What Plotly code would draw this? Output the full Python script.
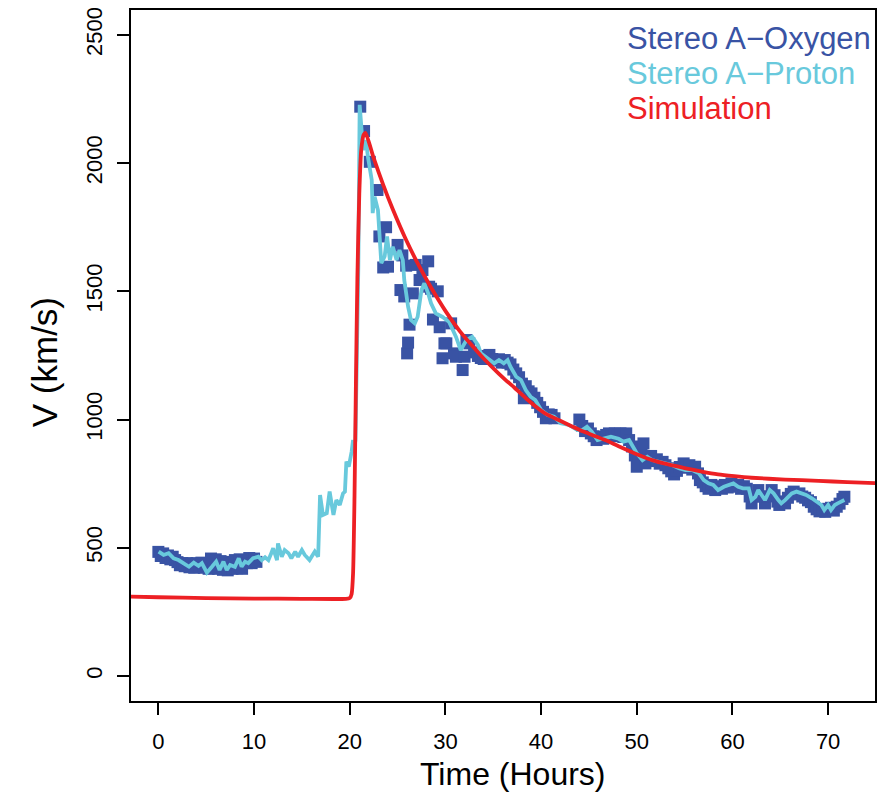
import plotly.graph_objects as go

# ---------------- data ----------------
oxy_t = [0.0, 0.25, 0.5, 0.75, 1.0, 1.25, 1.5, 1.75, 2.0, 2.25, 2.5, 2.75, 3.0, 3.25, 3.5,
         3.75, 4.0, 4.25, 4.5, 4.75, 5.0, 5.25, 5.5, 5.75, 6.0, 6.25, 6.5, 6.75, 7.0, 7.25,
         7.5, 7.75, 8.0, 8.25, 8.5, 8.75, 9.0, 9.25, 9.5, 9.75, 10.0, 10.25,
         21.1, 21.5, 22.1, 22.9, 23.1, 23.5, 23.8, 24.0, 25.0, 25.3, 25.5, 25.7, 25.9, 26.0,
         26.1, 26.25, 26.6, 26.9, 27.3, 27.6, 28.2, 28.3, 28.5, 28.7, 29.2, 29.4, 29.7, 29.9,
         30.1, 30.6, 30.9, 31.1, 31.8, 32.0, 32.2, 32.5,
         33.0, 33.4, 33.7, 34.0, 34.3, 34.6, 34.9, 35.2, 35.6, 35.9, 36.2, 36.5, 36.8, 37.1,
         37.4, 37.7, 38.0, 38.2, 38.4, 38.7, 39.0, 39.3, 39.6, 39.9, 40.2, 40.5, 40.8, 41.1,
         41.4,
         44.0, 44.3, 44.6, 44.9, 45.2, 45.5, 45.8, 46.1, 46.5, 46.8, 47.1, 47.4, 47.7, 48.0,
         48.3, 48.6, 48.9, 49.2, 49.5, 49.8, 50.0, 50.2, 50.5, 50.7, 50.9, 51.2, 51.5, 51.8,
         52.1, 52.4, 52.7, 53.0, 53.3, 53.6, 53.9, 54.2, 54.5, 54.9, 55.2, 55.5, 55.8, 56.1,
         56.4, 56.6, 56.9, 57.2, 57.5, 57.8, 58.2, 58.5, 58.9, 59.2, 59.5, 59.9, 60.2, 60.6,
         60.9, 61.2, 61.5, 61.8, 62.0, 62.3, 62.7, 63.0, 63.4, 63.7, 64.1, 64.4, 64.7, 64.9,
         65.2, 65.5, 65.8, 66.1, 66.4, 66.7, 67.0, 67.3, 67.6, 67.9, 68.2, 68.5, 68.8, 69.1,
         69.4, 69.7, 70.0, 70.3, 70.6, 70.9, 71.2, 71.5, 71.7]
oxy_v = [484, 468, 478, 460, 470, 455, 465, 452, 444, 432, 440, 428, 440, 424, 438,
         422, 440, 425, 442, 422, 436, 418, 458, 420, 455, 418, 448, 414, 445, 412,
         440, 418, 452, 420, 455, 418, 450, 440, 460, 440, 458, 445,
         2220, 2125, 2005, 1895, 1714, 1593, 1750, 1596, 1681, 1505, 1640, 1480, 1600, 1258,
         1300, 1370, 1492, 1603, 1544, 1583, 1617, 1518, 1510, 1390, 1500, 1360, 1239, 1297,
         1297, 1375, 1258, 1245, 1193, 1245, 1310, 1297,
         1262, 1248, 1240, 1236, 1245, 1252, 1236, 1230, 1235, 1222, 1232, 1222, 1215, 1195,
         1180, 1165, 1140, 1083, 1130, 1110, 1102, 1085, 1065, 1048, 1030, 1005, 1020, 1018,
         1005,
         1000, 975, 955, 965, 946, 935, 920, 932, 925, 940, 946, 935, 946, 936,
         946, 932, 946, 920, 895, 860, 816, 850, 880, 907, 829, 850, 858, 838,
         845, 828, 835, 822, 810, 798, 786, 800, 815, 829, 812, 822, 805, 816,
         790, 764, 755, 740, 730, 745, 725, 740, 730, 745, 735, 751, 738, 745,
         730, 740, 730, 700, 673, 700, 725, 700, 673, 700, 725, 705, 680, 667,
         680, 673, 695, 710, 719, 708, 712, 700, 695, 685, 678, 660, 650, 642,
         648, 640, 652, 656, 645, 660, 672, 690, 699]

pro_t = [0.03, 0.55, 1.07, 1.6, 2.1, 2.6, 3.2, 3.7, 4.2, 4.55, 5.07, 5.6, 6.04, 6.4, 6.8,
         7.15, 7.5, 8.0, 8.4, 8.7, 9.06, 9.4, 9.9, 10.45, 10.8, 11.15, 11.5, 11.8, 12.0, 12.4,
         12.5, 12.9, 13.2, 13.6, 13.9, 14.3, 14.6, 15.0, 15.3, 15.8, 16.35, 16.7, 16.9, 17.2,
         17.6, 17.9, 18.3, 18.6, 18.96, 19.3, 19.5, 19.65, 19.9, 20.2, 20.35, 20.4, 20.6, 20.9,
         21.04, 21.4, 21.7, 21.9, 22.3, 22.4, 22.6, 22.95, 23.1, 23.3, 23.65, 23.9, 24.2, 24.5,
         24.9, 25.2, 25.55, 25.7, 26.1, 26.4, 26.8, 27.1, 27.5, 27.8, 28.2, 28.5, 29.0, 29.7,
         30.4, 31.1, 31.6, 32.2, 32.8, 33.4, 33.7, 34.4, 35.1, 35.6, 36.1, 36.5, 36.8, 37.4,
         37.9, 38.4, 38.9, 39.4, 40.0, 40.7, 41.35, 42.05, 42.9, 43.8, 44.3, 44.8, 45.3, 45.9,
         46.6, 47.3, 48.1, 48.6, 49.2, 49.5, 50.0, 50.6, 51.1, 51.6, 52.3, 53.0, 53.7, 54.4,
         55.1, 55.8, 56.5, 57.0, 57.5, 58.0, 58.5, 59.1, 59.6, 60.1, 60.6, 61.1, 61.7, 62.0,
         62.4, 62.7, 63.05, 63.4, 63.9, 64.3, 64.8, 65.1, 65.5, 65.8, 66.2, 66.7, 67.2, 67.7,
         68.3, 68.8, 69.3, 69.6, 70.0, 70.3, 70.7, 71.0, 71.4, 71.7]
pro_v = [485, 472, 479, 459, 452, 440, 426, 442, 429, 440, 403, 426, 446, 413, 446,
         413, 433, 426, 459, 426, 446, 440, 459, 465, 452, 463, 452, 479, 498, 452,
         517, 465, 491, 479, 459, 485, 465, 491, 472, 452, 485, 465, 706, 628,
         635, 719, 628, 686, 667, 712, 719, 836, 816, 875, 920, 869, 920, 1600,
         2227, 2051, 2090, 2025, 1934, 1805, 1869, 1817, 1740, 1610, 1636, 1714, 1622, 1674,
         1622, 1661, 1622, 1544, 1440, 1388, 1375, 1401, 1505, 1531, 1492, 1453, 1414, 1400,
         1380, 1323, 1271, 1310, 1323, 1291, 1258, 1239, 1219, 1232, 1219, 1232, 1206, 1167,
         1154, 1115, 1089, 1076, 1037, 1018, 1011, 986, 979, 959, 959, 972, 953, 920,
         927, 933, 925, 914, 920, 901, 869, 842, 855, 842, 836, 829, 823, 810,
         803, 803, 790, 764, 751, 745, 725, 738, 745, 751, 738, 732, 732, 686,
         699, 725, 706, 686, 725, 712, 686, 673, 686, 699, 712, 719, 712, 706,
         693, 680, 667, 647, 667, 647, 667, 673, 680, 686]

sim_t = [-3, 0, 5, 10, 15, 19.6, 20.0, 20.2, 20.35, 20.5, 20.65, 20.8, 21.0, 21.2, 21.45,
         21.65, 22.5, 23.5, 24.5, 25.9, 27.3, 28.5, 30.07, 31.5, 32.8, 34.2, 35.6, 36.3, 37.2,
         38.5, 39.8, 40.5, 42, 43.3, 44.5, 46.7, 48.1, 50.2, 51.6, 53.3, 55.1, 56.8, 58.5,
         60.2, 62, 65.5, 69, 72, 75]
sim_v = [310, 307, 304, 302, 301, 301, 304, 320, 400, 700, 1150, 1550, 1880, 2050, 2110,
         2118, 2020, 1915, 1820, 1700, 1595, 1515, 1420, 1345, 1288, 1230, 1178, 1154, 1125,
         1080, 1040, 1022, 995, 972, 952, 920, 896, 862, 842, 825, 810, 797, 786,
         779, 773, 766, 761, 756, 752]

legend_labels = ["Stereo A\u2212Oxygen", "Stereo A\u2212Proton", "Simulation"]
x_ticks = [0, 10, 20, 30, 40, 50, 60, 70]
y_ticks = [0, 500, 1000, 1500, 2000, 2500]

# ---------------- style ----------------
C_OXY = "#3953A4"
C_PRO = "#68C9DC"
C_SIM = "#ED2024"
FONT = "Liberation Sans, Arial, Helvetica, sans-serif"

W, H = 884, 796
L, R, T, B = 131, 7, 10, 95
XR = [-2.86, 74.9]
YR = [-97.5, 2597]

fig = go.Figure()
fig.add_trace(go.Scatter(x=oxy_t, y=oxy_v, mode="markers",
                         marker=dict(symbol="square", size=12, color=C_OXY, line=dict(width=0)),
                         showlegend=False, cliponaxis=True))
fig.add_trace(go.Scatter(x=pro_t, y=pro_v, mode="lines",
                         line=dict(color=C_PRO, width=3.8), showlegend=False))
fig.add_trace(go.Scatter(x=sim_t, y=sim_v, mode="lines", line_shape="spline",
                         line=dict(color=C_SIM, width=3.8, smoothing=0.6), showlegend=False))

axis_common = dict(showgrid=False, zeroline=False, showline=True, linecolor="black",
                   linewidth=2, mirror=True, ticks="outside", ticklen=12, tickwidth=2,
                   tickcolor="black", tickfont=dict(family=FONT, size=22, color="black"))
fig.update_xaxes(range=XR, tickmode="array", tickvals=x_ticks,
                 ticktext=[str(v) for v in x_ticks], ticklabelstandoff=8, **axis_common)
fig.update_yaxes(range=YR, tickmode="array", tickvals=y_ticks,
                 ticktext=[str(v) for v in y_ticks], tickangle=-90, ticklabelstandoff=6,
                 **axis_common)

annotations = []
colors = [C_OXY, C_PRO, C_SIM]
leg_x = 626
leg_y = [38, 73, 109]
pw = W - L - R
ph = H - T - B
for lab, col, yy in zip(legend_labels, colors, leg_y):
    annotations.append(dict(text=lab, xref="paper", yref="paper",
                            x=(leg_x - L) / pw, y=1 - (yy - T) / ph,
                            xanchor="left", yanchor="middle", showarrow=False,
                            width=877 - leg_x, align="left",
                            font=dict(family=FONT, size=31, color=col)))
annotations.append(dict(text="Time (Hours)", xref="paper", yref="paper",
                        x=(514 - L) / pw, y=1 - (774 - T) / ph, xanchor="center",
                        yanchor="middle", showarrow=False,
                        font=dict(family=FONT, size=32, color="black")))
annotations.append(dict(text="V (km/s)", xref="paper", yref="paper",
                        x=(45 - L) / pw, y=1 - (362 - T) / ph, xanchor="center",
                        yanchor="middle", showarrow=False, textangle=-90,
                        font=dict(family=FONT, size=35, color="black")))

fig.update_layout(width=W, height=H, margin=dict(l=L, r=R, t=T, b=B),
                  plot_bgcolor="white", paper_bgcolor="white",
                  annotations=annotations, showlegend=False)

fig.write_html("out.html")
